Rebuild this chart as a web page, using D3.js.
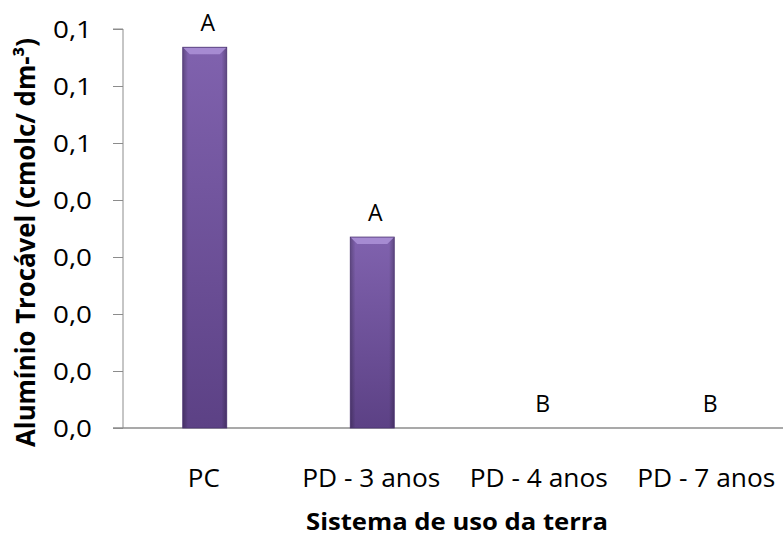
<!DOCTYPE html>
<html>
<head>
<meta charset="utf-8">
<script src="https://cdn.jsdelivr.net/npm/d3@7"></script>
<style>
  html, body { margin: 0; padding: 0; background: #fff; }
  svg { display: block; }
  text { font-family: "Open Sans", "DejaVu Sans", sans-serif; fill: #000; }
</style>
</head>
<body>
<svg id="chart" width="783" height="537"></svg>
<script>
// Exchangeable aluminium by land-use system
const categories = ["PC", "PD - 3 anos", "PD - 4 anos", "PD - 7 anos"];
const values = [0.0668, 0.0335, 0, 0];
const letters = ["A", "A", "B", "B"];
const yTicks = [0, 0.01, 0.02, 0.03, 0.04, 0.05, 0.06, 0.07];
const yTickLabels = ["0,0", "0,0", "0,0", "0,0", "0,0", "0,1", "0,1", "0,1"];
const yTitle = "Alumínio Trocável (cmolc/ dm-³)";
const xTitle = "Sistema de uso da terra";

const svg = d3.select("#chart");
const margin = { left: 123, top: 29, bottom: 428 };

const x = d3.scaleBand()
  .domain(categories)
  .range([121, 791])
  .paddingInner(0)
  .paddingOuter(0);

const y = d3.scaleLinear()
  .domain([0, 0.07])
  .range([margin.bottom, margin.top]);

const barW = 44;

// gradients for the bars
const defs = svg.append("defs");
const grad = defs.append("linearGradient").attr("id", "barGrad")
  .attr("x1", 0).attr("y1", 0).attr("x2", 0).attr("y2", 1);
grad.append("stop").attr("offset", "0%").attr("stop-color", "#8062ae");
grad.append("stop").attr("offset", "100%").attr("stop-color", "#5c4185");
const side = defs.append("linearGradient").attr("id", "sideGrad")
  .attr("x1", 0).attr("y1", 0).attr("x2", 1).attr("y2", 0);
side.append("stop").attr("offset", "0%").attr("stop-color", "#000").attr("stop-opacity", 0.25);
side.append("stop").attr("offset", "12%").attr("stop-color", "#000").attr("stop-opacity", 0);
side.append("stop").attr("offset", "88%").attr("stop-color", "#000").attr("stop-opacity", 0);
side.append("stop").attr("offset", "100%").attr("stop-color", "#000").attr("stop-opacity", 0.25);

// y axis
const yAxis = d3.axisLeft(y)
  .tickValues(yTicks)
  .tickFormat((d, i) => yTickLabels[i])
  .tickSize(10)
  .tickPadding(21);
const gy = svg.append("g").attr("transform", `translate(${margin.left},0)`).call(yAxis);
gy.select(".domain").attr("stroke", "#8c8c8c").attr("d", `M-10,${y(0.07)}H0V${y(0)}`);
gy.selectAll(".tick line").attr("stroke", "#8c8c8c");
gy.selectAll(".tick text")
  .attr("dy", "0.36em")
  .style("font-size", "24px")
  .style("font-family", "'Open Sans', sans-serif")
  .attr("textLength", 39)
  .attr("lengthAdjust", "spacingAndGlyphs")
  .attr("fill", "#000");

// baseline
svg.append("line")
  .attr("x1", margin.left - 10).attr("x2", 783)
  .attr("y1", y(0)).attr("y2", y(0))
  .attr("stroke", "#8c8c8c").attr("stroke-width", 1.5);

// bars
const bars = svg.append("g").selectAll("g.bar")
  .data(categories.map((c, i) => ({ c, v: values[i], l: letters[i] })))
  .join("g").attr("class", "bar");

bars.filter(d => d.v > 0).each(function (d) {
  const g = d3.select(this);
  const x0 = x(d.c) + x.bandwidth() / 2 - barW / 2;
  const y0 = y(d.v);
  const h = y(0) - y0;
  g.append("rect").attr("x", x0).attr("y", y0).attr("width", barW).attr("height", h)
    .attr("fill", "url(#barGrad)");
  g.append("rect").attr("x", x0).attr("y", y0).attr("width", barW).attr("height", h)
    .attr("fill", "url(#sideGrad)");
  // top bevel
  const bv = 7;
  g.append("path")
    .attr("d", `M${x0},${y0}H${x0 + barW}L${x0 + barW - bv},${y0 + bv}H${x0 + bv}Z`)
    .attr("fill", "#a68bd2");
  g.append("rect").attr("x", x0).attr("y", y0).attr("width", barW).attr("height", h)
    .attr("fill", "none").attr("stroke", "#4a3270").attr("stroke-width", 0.8);
});

// significance letters
bars.append("text")
  .attr("x", d => x(d.c) + x.bandwidth() / 2 + 3)
  .attr("y", d => y(d.v) - 16)
  .attr("text-anchor", "middle")
  .style("font-size", "23px")
  .text(d => d.l);

// category labels
svg.append("g").selectAll("text")
  .data(categories)
  .join("text")
  .attr("x", d => x(d) + x.bandwidth() / 2 - 1)
  .attr("y", 487)
  .attr("text-anchor", "middle")
  .style("font-size", "25px")
  .style("font-family", "'Open Sans', sans-serif")
  .attr("textLength", d => d === "PC" ? 32 : 138)
  .attr("lengthAdjust", "spacingAndGlyphs")
  .text(d => d);

// axis titles
svg.append("text")
  .attr("x", 457).attr("y", 530)
  .attr("text-anchor", "middle")
  .style("font-size", "24px")
  .style("font-weight", "bold")
  .attr("textLength", 302)
  .attr("lengthAdjust", "spacingAndGlyphs")
  .text(xTitle);

svg.append("text")
  .attr("transform", `translate(35,${(38 + 447) / 2}) rotate(-90)`)
  .attr("text-anchor", "middle")
  .style("font-size", "26px")
  .style("font-weight", "bold")
  .attr("textLength", 409)
  .attr("lengthAdjust", "spacingAndGlyphs")
  .text(yTitle);
</script>
</body>
</html>
